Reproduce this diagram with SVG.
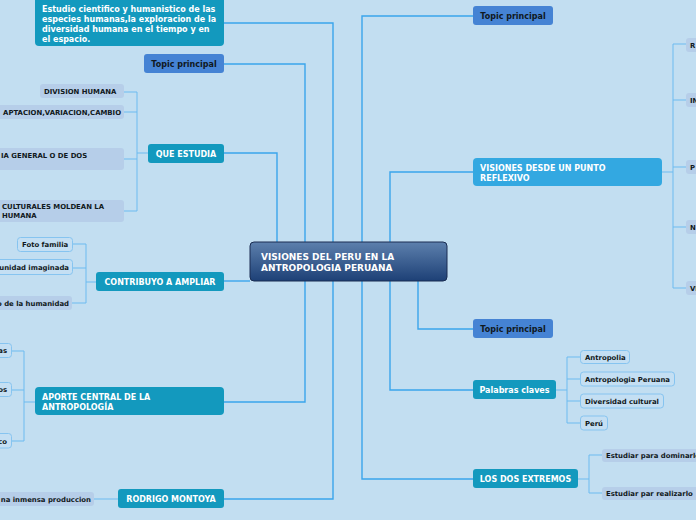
<svg xmlns="http://www.w3.org/2000/svg" width="696" height="520" viewBox="0 0 696 520">
<defs>
<linearGradient id="cg" x1="0" y1="0" x2="0" y2="1">
<stop offset="0" stop-color="#5d80ad"/>
<stop offset="1" stop-color="#1d4076"/>
</linearGradient>
</defs>
<style>
.bg{fill:#c2def1}
.main{fill:#1399be}
.topic{fill:#4583d4}
.vis{fill:#33a8e1}
.sub{fill:#b6cee9}
.subb{fill:#c4dff3;stroke:#86c4f0;stroke-width:1}
.conn{fill:none;stroke:#3aa5ec;stroke-width:1.4}
.sconn{fill:none;stroke:#6dbbf0;stroke-width:1}
text{font-family:"DejaVu Sans","Liberation Sans",sans-serif;font-weight:bold}
.wt{fill:#ffffff;font-size:8px}
.dt{fill:#101820;font-size:8px}
.st{fill:#101820;font-size:6.9px}
.ct{fill:#ffffff;font-size:9px}
</style>
<rect class="bg" x="0" y="0" width="696" height="520"/>

<g id="connectors">
<path class="conn" d="M224,23 H333 V242"/>
<path class="conn" d="M224,64 H305 V242"/>
<path class="conn" d="M224,153 H277 V242"/>
<path class="conn" d="M224,281 H250"/>
<path class="conn" d="M224,402 H305 V281"/>
<path class="conn" d="M224,499 H333 V281"/>
<path class="conn" d="M473,16 H362 V242"/>
<path class="conn" d="M473,172 H390 V242"/>
<path class="conn" d="M473,329 H418 V281"/>
<path class="conn" d="M473,390 H390 V281"/>
<path class="conn" d="M473,479 H362 V281"/>

<path class="sconn" d="M148,153 H137 M137,92 V211 M137,92 H124 M137,112 H124 M137,159 H124 M137,211 H124"/>
<path class="sconn" d="M96,282 H86 M86,244 V303 M86,244 H72 M86,268 H72 M86,303 H72"/>
<path class="sconn" d="M35,402 H24 M24,351 V441 M24,351 H11 M24,390 H11 M24,441 H11"/>
<path class="sconn" d="M118,499 H94"/>
<path class="sconn" d="M662,172 H673 M673,44 V288 M673,44 H686 M673,100 H686 M673,167 H686 M673,227 H686 M673,288 H686"/>
<path class="sconn" d="M556,390 H567 M567,357 V423 M567,357 H580 M567,379 H580 M567,401 H580 M567,423 H580"/>
<path class="sconn" d="M578,479 H589 M589,455 V493 M589,455 H602 M589,493 H602"/>
</g>

<g id="center">
<rect x="250" y="242" width="197" height="39" rx="4" fill="url(#cg)" stroke="#1a2d52" stroke-width="1"/>
<text class="ct" x="261" y="259.5">VISIONES DEL PERU EN LA</text>
<text class="ct" x="261" y="270.5">ANTROPOLOGIA PERUANA</text>
</g>

<g id="estudio">
<rect class="main" x="35" y="-5" width="189" height="51" rx="4"/>
<text class="wt" x="42" y="12">Estudio cientifico y humanistico de las</text>
<text class="wt" x="42" y="22">especies humanas,la exploracion de la</text>
<text class="wt" x="42" y="32">diversidad humana en el tiempo y en</text>
<text class="wt" x="42" y="42">el espacio.</text>
</g>

<g id="topic-left">
<rect class="topic" x="144" y="54" width="80" height="19" rx="3"/>
<text class="dt" x="184" y="66.5" text-anchor="middle">Topic principal</text>
</g>

<g id="que-estudia">
<rect class="main" x="148" y="144" width="76" height="19" rx="3"/>
<text class="wt" x="186" y="156.5" text-anchor="middle">QUE ESTUDIA</text>
</g>
<g id="division">
<rect class="sub" x="40" y="84" width="84" height="14" rx="3"/>
<text class="st" x="44" y="93.8">DIVISION HUMANA</text>
</g>
<g id="adaptacion">
<rect class="sub" x="-10" y="105" width="134" height="14" rx="3"/>
<text class="st" x="121" y="114.5" text-anchor="end">APTACION,VARIACION,CAMBIO</text>
</g>
<g id="general">
<rect class="sub" x="-10" y="148" width="134" height="22" rx="3"/>
<text class="st" x="1" y="158">IA GENERAL O DE DOS</text>
</g>
<g id="culturales">
<rect class="sub" x="-10" y="200" width="134" height="22" rx="3"/>
<text class="st" x="2" y="209">CULTURALES MOLDEAN LA</text>
<text class="st" x="2" y="217.5">HUMANA</text>
</g>

<g id="contribuyo">
<rect class="main" x="96" y="272" width="128" height="19" rx="3"/>
<text class="wt" x="160" y="284.5" text-anchor="middle">CONTRIBUYO A AMPLIAR</text>
</g>
<g id="foto">
<rect class="subb" x="17.5" y="237.5" width="55" height="14" rx="3"/>
<text class="st" x="22" y="247">Foto familia</text>
</g>
<g id="comunidad">
<rect class="subb" x="-10" y="259.5" width="82.5" height="15" rx="3"/>
<text class="st" x="69" y="270" text-anchor="end">unidad imaginada</text>
</g>
<g id="humanidad">
<rect class="sub" x="-10" y="296" width="82" height="14" rx="3"/>
<text class="st" x="69" y="305.8" text-anchor="end">o de la humanidad</text>
</g>

<g id="aporte">
<rect class="main" x="35" y="387" width="189" height="28" rx="4"/>
<text class="wt" x="42" y="400">APORTE CENTRAL DE LA</text>
<text class="wt" x="42" y="410">ANTROPOLOGÍA</text>
</g>
<g id="as">
<rect class="subb" x="-10" y="343.5" width="21.5" height="14" rx="3"/>
<text class="st" x="7" y="353" text-anchor="end">as</text>
</g>
<g id="os">
<rect class="subb" x="-10" y="382.5" width="21.5" height="14" rx="3"/>
<text class="st" x="7" y="392.3" text-anchor="end">os</text>
</g>
<g id="co">
<rect class="subb" x="-10" y="433.5" width="21.5" height="14.5" rx="3"/>
<text class="st" x="7" y="443.5" text-anchor="end">co</text>
</g>

<g id="rodrigo">
<rect class="main" x="118" y="489" width="106" height="19" rx="3"/>
<text class="wt" x="171" y="501.5" text-anchor="middle">RODRIGO MONTOYA</text>
</g>
<g id="produccion">
<rect class="sub" x="-10" y="492" width="104" height="14" rx="3"/>
<text class="st" x="91" y="501.7" text-anchor="end">na inmensa produccion</text>
</g>

<g id="topic-right-1">
<rect class="topic" x="473" y="6" width="80" height="19" rx="3"/>
<text class="dt" x="513" y="18.5" text-anchor="middle">Topic principal</text>
</g>

<g id="visiones">
<rect class="vis" x="473" y="158" width="189" height="28" rx="4"/>
<text class="wt" x="480" y="171">VISIONES DESDE UN PUNTO</text>
<text class="wt" x="480" y="181">REFLEXIVO</text>
</g>
<g id="r1"><rect class="sub" x="686" y="38" width="20" height="14" rx="3"/><text class="st" x="690" y="47.5">R</text></g>
<g id="r2"><rect class="sub" x="686" y="93" width="20" height="14" rx="3"/><text class="st" x="690" y="102.5">IN</text></g>
<g id="r3"><rect class="sub" x="686" y="160" width="20" height="14" rx="3"/><text class="st" x="690" y="169.5">P</text></g>
<g id="r4"><rect class="sub" x="686" y="220" width="20" height="14" rx="3"/><text class="st" x="690" y="229.5">N</text></g>
<g id="r5"><rect class="sub" x="686" y="281" width="20" height="14" rx="3"/><text class="st" x="690" y="290.5">VI</text></g>

<g id="topic-right-2">
<rect class="topic" x="473" y="319" width="80" height="19" rx="3"/>
<text class="dt" x="513" y="331.5" text-anchor="middle">Topic principal</text>
</g>

<g id="palabras">
<rect class="main" x="473" y="380" width="83" height="19" rx="3"/>
<text class="wt" x="514.5" y="392.8" text-anchor="middle" font-size="7.5">Palabras claves</text>
</g>
<g id="antropolia"><rect class="subb" x="580.5" y="350.5" width="49" height="13" rx="3"/><text class="st" x="585" y="359.6">Antropolia</text></g>
<g id="antroperuana"><rect class="subb" x="580.5" y="372" width="94" height="14" rx="3"/><text class="st" x="585" y="381.6">Antropologia Peruana</text></g>
<g id="diversidad"><rect class="subb" x="580.5" y="394" width="83" height="14" rx="3"/><text class="st" x="585" y="403.6">Diversidad cultural</text></g>
<g id="peru"><rect class="subb" x="580.5" y="416" width="27" height="14" rx="3"/><text class="st" x="585" y="425.6">Perú</text></g>

<g id="losdos">
<rect class="main" x="473" y="469" width="105" height="19" rx="3"/>
<text class="wt" x="525.5" y="481.5" text-anchor="middle">LOS DOS EXTREMOS</text>
</g>
<g id="dominarlo"><rect class="sub" x="602" y="449" width="100" height="13" rx="3"/><text class="st" x="606" y="458.3">Estudiar para dominarlo</text></g>
<g id="realizarlo"><rect class="sub" x="602" y="487" width="100" height="13" rx="3"/><text class="st" x="606" y="496.3">Estudiar par realizarlo</text></g>
</svg>
